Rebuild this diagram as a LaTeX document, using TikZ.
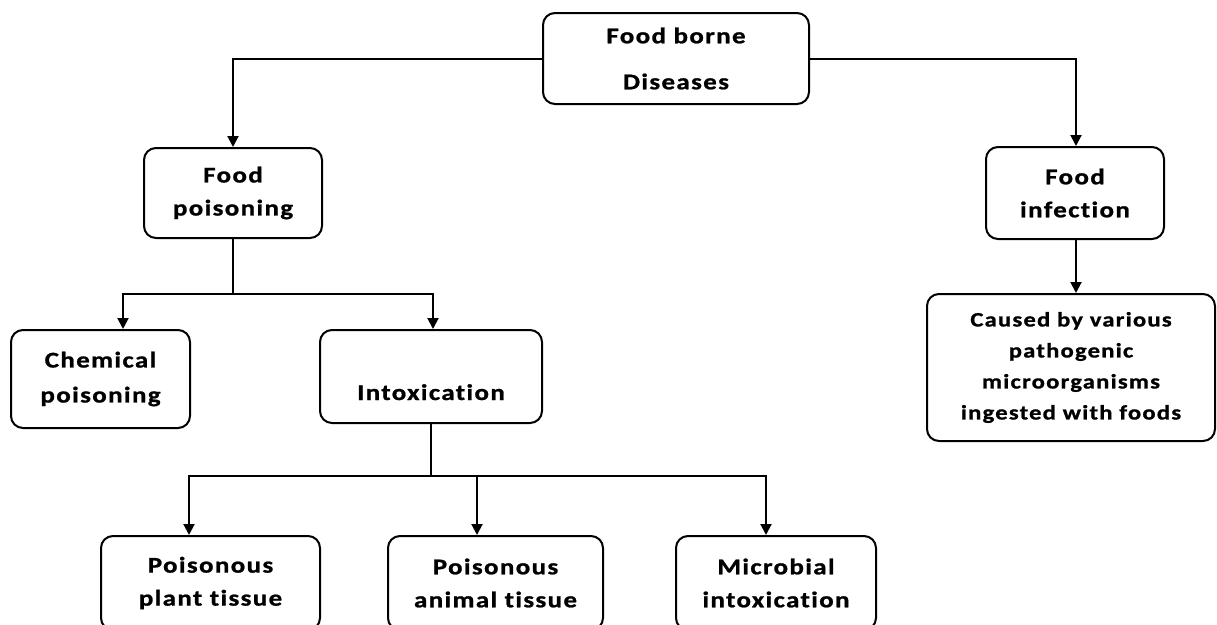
\documentclass[tikz,border=0pt]{standalone}
\usepackage{fontspec}
\newfontfamily\boxfont{Carlito}[FakeStretch=1.2,LetterSpace=6,FakeBold=1,Ligatures=NoCommon]
\usetikzlibrary{arrows.meta}
\begin{document}
\begin{tikzpicture}[x=1pt,y=-1pt,
  box/.style={draw, line width=2pt, rounded corners=12pt, inner sep=0pt,
    align=center, font=\boxfont\bfseries\fontsize{22.5pt}{33pt}\selectfont},
  ln/.style={line width=2pt},
  arr/.style={line width=2pt, -{Triangle[length=11pt,width=11pt]}}]
\useasboundingbox (0,0) rectangle (1217,624);
\fill[white] (0,0) rectangle (1217,624);

\node[box, minimum width=266pt, minimum height=91pt,
  font=\boxfont\bfseries\fontsize{22.5pt}{46pt}\selectfont] (fbd) at (676,58.5) {Food borne\\Diseases};
\node[box, minimum width=178pt, minimum height=90pt] (fp) at (233,193) {Food\\poisoning};
\node[box, minimum width=178pt, minimum height=92pt] (fi) at (1075,193) {Food\\infection};
\node[box, minimum width=179pt, minimum height=98pt,
  font=\boxfont\bfseries\fontsize{22.5pt}{35pt}\selectfont] (chem) at (100.5,379) {Chemical\\poisoning};
\node[box, minimum width=222pt, minimum height=93pt, text height=47pt, text depth=0pt] (intox) at (431,376.5) {Intoxication};
\node[box, minimum width=288pt, minimum height=147pt,
  font=\boxfont\bfseries\fontsize{20.5pt}{31pt}\selectfont] (caused) at (1071,367.5) {Caused by various\\pathogenic\\microorganisms\\ingested with foods};
\node[box, minimum width=219pt, minimum height=94pt] (plant) at (210.5,583) {Poisonous\\plant tissue};
\node[box, minimum width=215pt, minimum height=94pt] (animal) at (495.5,583) {Poisonous\\animal tissue};
\node[box, minimum width=200pt, minimum height=94pt] (micro) at (776,583) {Microbial\\intoxication};

\coordinate (j1) at (233,294);
\coordinate (j2) at (431,476);

\draw[arr] (fbd.west) -| (fp.north);
\draw[arr] (fbd.east) -| ([xshift=1pt]fi.north);
\draw[arr] ([xshift=1pt]fi.south) -- ([xshift=1pt]fi.south |- caused.north);

\draw[ln] (fp.south) -- (j1);
\draw[arr] (j1) -| ([xshift=22.5pt]chem.north);
\draw[arr] (j1) -| ([xshift=2pt]intox.north);

\draw[ln] (intox.south) -- (j2);
\draw[arr] (j2) -| ([xshift=-21.5pt]plant.north);
\draw[arr] (j2) -| ([xshift=-18.5pt]animal.north);
\draw[arr] (j2) -| ([xshift=-10pt]micro.north);
\end{tikzpicture}
\end{document}
